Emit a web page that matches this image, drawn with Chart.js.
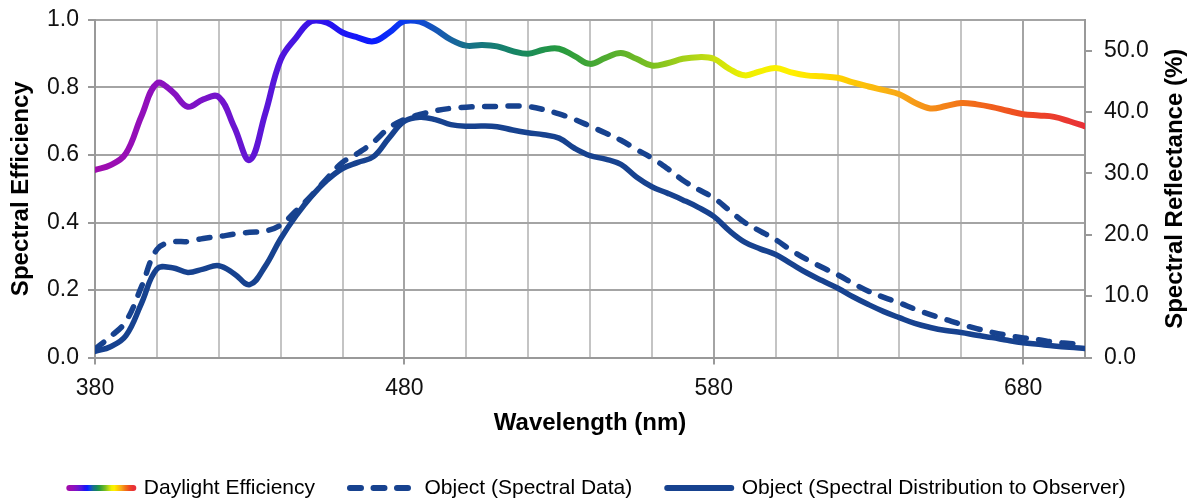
<!DOCTYPE html>
<html>
<head>
<meta charset="utf-8">
<title>Spectral Efficiency</title>
<script src="https://cdn.jsdelivr.net/npm/chart.js@4.4.1/dist/chart.umd.min.js"></script>
<style>
  html, body { margin: 0; padding: 0; background: #fff; }
</style>
</head>
<body>
<canvas id="chart" width="1195" height="501"></canvas>
<script>
// wavelength samples (nm)
const WAVELENGTHS = [
  380, 385, 390, 395, 400, 405, 410, 415, 420, 425, 430, 435, 440, 445, 450, 455,
  460, 465, 470, 475, 480, 485, 490, 495, 500, 505, 510, 515, 520, 525, 530, 535,
  540, 545, 550, 555, 560, 565, 570, 575, 580, 585, 590, 595, 600, 605, 610, 615,
  620, 625, 630, 635, 640, 645, 650, 655, 660, 665, 670, 675, 680, 685, 690, 695, 700
]

// relative daylight efficiency (left axis)
const DAYLIGHT = [
  0.556, 0.570, 0.605, 0.715, 0.812, 0.788, 0.743, 0.765, 0.772, 0.683, 0.585, 0.722, 0.882, 0.948, 0.997, 0.992,
  0.963, 0.948, 0.937, 0.962, 0.997, 0.995, 0.972, 0.942, 0.924, 0.926, 0.922, 0.908, 0.900, 0.912, 0.915, 0.893,
  0.870, 0.888, 0.902, 0.885, 0.865, 0.872, 0.885, 0.890, 0.885, 0.855, 0.836, 0.848, 0.858, 0.845, 0.836, 0.833,
  0.829, 0.815, 0.803, 0.792, 0.780, 0.755, 0.738, 0.745, 0.754, 0.750, 0.742, 0.731, 0.721, 0.717, 0.713, 0.700, 0.685
]

// object reflectance in % (right axis)
const REFLECTANCE = [
  1.4, 3.4, 5.9, 11.5, 17.6, 18.8, 18.9, 19.4, 19.7, 20.1, 20.4, 20.6, 21.6, 23.9, 26.4, 29.2,
  31.8, 33.3, 35.1, 37.4, 38.8, 39.6, 40.2, 40.6, 40.8, 40.9, 40.9, 41.0, 40.9, 40.4, 39.7, 38.8,
  37.7, 36.6, 35.4, 33.9, 32.5, 30.8, 28.9, 27.4, 26.0, 24.0, 22.0, 20.6, 19.2, 17.5, 16.0, 14.7,
  13.5, 12.1, 10.8, 9.8, 8.9, 7.9, 7.0, 6.2, 5.4, 4.7, 4.1, 3.6, 3.2, 2.9, 2.5, 2.3, 2.1
]

// what reaches the observer (left axis)
const OBSERVED = [
  0.018, 0.032, 0.065, 0.160, 0.262, 0.266, 0.252, 0.262, 0.272, 0.248, 0.216, 0.270, 0.352, 0.420, 0.478, 0.525,
  0.560, 0.578, 0.595, 0.650, 0.700, 0.712, 0.705, 0.690, 0.685, 0.686, 0.684, 0.674, 0.666, 0.660, 0.650, 0.620,
  0.598, 0.588, 0.572, 0.535, 0.506, 0.487, 0.467, 0.445, 0.418, 0.376, 0.342, 0.322, 0.305, 0.278, 0.251, 0.228,
  0.206, 0.180, 0.157, 0.136, 0.118, 0.101, 0.089, 0.080, 0.074, 0.066, 0.059, 0.051, 0.044, 0.039, 0.034, 0.030, 0.027
]

const X_TICK_LABELS = [380, 480, 580, 680]

// spectrum colours along the wavelength range
const RAINBOW_NM = [380, 400, 420, 440, 455, 470, 480, 490, 500, 515, 530, 545, 560, 575, 590, 605, 620, 640, 660, 680, 700]
const RAINBOW_COLORS = [
  '#a00cad', '#8e10bd', '#7414cc', '#5216dc', '#2a12ee', '#0a1cff', '#0a3cf0', '#1656b8', '#17708a', '#168466',
  '#269a40', '#50ac30', '#7cc020', '#b6d816', '#eef000', '#fff000', '#ffd200', '#f8a818', '#f27418', '#ee4a22', '#e83038'
]

const BLUE = '#17428f'
const AXIS_GREY = '#999999'
const MAJOR_GRID = '#a4a4a4'
const MINOR_GRID = '#c4c4c4'
const LEGEND_LINE = 64

Chart.defaults.font.family = "'Liberation Sans', Arial, sans-serif"
Chart.defaults.color = '#111'

const isMajor = v => X_TICK_LABELS.includes(v)

function rainbow(ctx, x0, x1) {
  const g = ctx.createLinearGradient(x0, 0, x1, 0)
  RAINBOW_NM.forEach((nm, i) => g.addColorStop((nm - 380) / 320, RAINBOW_COLORS[i]))
  return g
}

const points = ys => WAVELENGTHS.map((x, i) => ({ x, y: ys[i] }))

// right-hand title reads bottom-to-top like the left one
const rightTitle = {
  id: 'rightTitle',
  afterDraw(chart) {
    const { ctx, chartArea } = chart
    const s = chart.scales.y1
    ctx.save()
    ctx.translate(s.right - 20, (chartArea.top + chartArea.bottom) / 2)
    ctx.rotate(-Math.PI / 2)
    ctx.font = "bold 24px 'Liberation Sans', Arial, sans-serif"
    ctx.fillStyle = '#000'
    ctx.textAlign = 'center'
    ctx.textBaseline = 'middle'
    ctx.fillText('Spectral Reflectance (%)', 0, 0)
    ctx.restore()
  }
}

// rainbow stroke for the first legend sample
const legendRainbow = {
  id: 'legendRainbow',
  beforeDraw(chart) {
    const lg = chart.legend
    if (!lg || !lg.legendItems || !lg.legendHitBoxes || !lg.legendHitBoxes[0]) return
    const left = lg.legendHitBoxes[0].left
    lg.legendItems[0].strokeStyle = rainbow(chart.ctx, left, left + LEGEND_LINE)
  }
}

// small line height on the value axes keeps the top label overhang inside the 20px margin
const valueTickFont = { size: 23, lineHeight: 0.6 }

new Chart(document.getElementById('chart'), {
  type: 'line',
  data: {
    datasets: [
      {
        label: 'Daylight Efficiency',
        data: points(DAYLIGHT),
        yAxisID: 'y',
        borderColor: c => {
          const a = c.chart.chartArea
          return a ? rainbow(c.chart.ctx, a.left, a.right) : RAINBOW_COLORS[2]
        },
        borderWidth: 6
      },
      {
        label: 'Object (Spectral Data)',
        data: points(REFLECTANCE),
        yAxisID: 'y1',
        borderColor: BLUE,
        borderWidth: 5.5,
        borderDash: [11, 12.5]
      },
      {
        label: 'Object (Spectral Distribution to Observer)',
        data: points(OBSERVED),
        yAxisID: 'y',
        borderColor: BLUE,
        borderWidth: 5.5
      }
    ]
  },
  options: {
    responsive: false,
    animation: false,
    layout: { padding: { top: 20, left: 0, right: 0, bottom: 0 } },
    elements: {
      point: { radius: 0 },
      line: { tension: 0.4, borderCapStyle: 'round', borderJoinStyle: 'round', fill: false }
    },
    scales: {
      x: {
        type: 'linear',
        min: 380, max: 700,
        border: { color: AXIS_GREY, width: 2 },
        grid: {
          color: c => isMajor(c.tick.value) ? MAJOR_GRID : MINOR_GRID,
          tickColor: c => isMajor(c.tick.value) ? AXIS_GREY : 'rgba(0,0,0,0)',
          lineWidth: 2,
          tickLength: 7
        },
        ticks: {
          stepSize: 20, autoSkip: false, maxRotation: 0, padding: 10,
          font: { size: 23 }, color: '#111',
          callback: v => isMajor(v) ? String(v) : ''
        },
        title: {
          display: true, text: 'Wavelength (nm)', color: '#000',
          font: { size: 24, weight: 'bold' }, padding: { top: 0, bottom: 5 }
        },
        afterFit: s => { s.height = 85 }
      },
      y: {
        position: 'left',
        min: 0, max: 1,
        border: { color: AXIS_GREY, width: 2 },
        grid: { color: MAJOR_GRID, lineWidth: 2, tickLength: 7, tickColor: AXIS_GREY },
        ticks: { stepSize: 0.2, padding: 9, font: valueTickFont, color: '#111', callback: v => v.toFixed(1) },
        title: {
          display: true, text: 'Spectral Efficiency', color: '#000',
          font: { size: 24, weight: 'bold' }, padding: { top: 7, bottom: 0 }
        },
        afterFit: s => { s.width = 95 }
      },
      y1: {
        position: 'right',
        min: 0, max: 55,
        border: { color: AXIS_GREY, width: 2 },
        grid: { drawOnChartArea: false, lineWidth: 2, tickLength: 7, tickColor: AXIS_GREY },
        ticks: { stepSize: 10, padding: 12, font: valueTickFont, color: '#111', callback: v => v.toFixed(1) },
        afterBuildTicks: s => { s.ticks = s.ticks.filter(t => t.value <= 50) },
        afterFit: s => { s.width = 110 }
      }
    },
    plugins: {
      tooltip: { enabled: false },
      legend: {
        position: 'bottom',
        maxHeight: 58.5,
        labels: {
          usePointStyle: true,
          pointStyleWidth: LEGEND_LINE,
          boxHeight: 6,
          padding: 35,
          color: '#111',
          font: { size: 21 },
          generateLabels: chart => chart.data.datasets.map((ds, i) => ({
            text: ds.label,
            datasetIndex: i,
            fillStyle: 'rgba(0,0,0,0)',
            strokeStyle: i === 0 ? RAINBOW_COLORS[2] : ds.borderColor,
            lineWidth: 6,
            lineDash: ds.borderDash || [],
            lineCap: 'round',
            pointStyle: 'line',
            hidden: false
          }))
        }
      }
    }
  },
  plugins: [legendRainbow, rightTitle]
})
</script>
</body>
</html>
